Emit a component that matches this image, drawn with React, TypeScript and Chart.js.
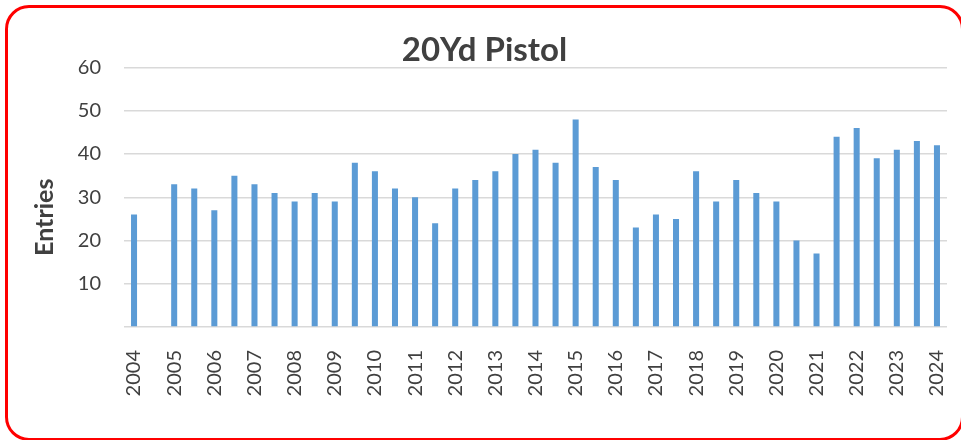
import { useEffect, useRef } from 'react';
import { Chart, registerables } from 'chart.js';

Chart.register(...registerables);

const categories = [
  '2004', '', '2005', '', '2006', '', '2007', '', '2008', '', '2009', '',
  '2010', '', '2011', '', '2012', '', '2013', '', '2014', '', '2015', '',
  '2016', '', '2017', '', '2018', '', '2019', '', '2020', '', '2021', '',
  '2022', '', '2023', '', '2024',
];

const entries = [
  26, null, 33, 32, 27, 35, 33, 31, 29, 31, 29, 38,
  36, 32, 30, 24, 32, 34, 36, 40, 41, 38, 48, 37,
  34, 23, 26, 25, 36, 29, 34, 31, 29, 20, 17, 44,
  46, 39, 41, 43, 42,
];

const yMin = 0;
const yMax = 60;
const yStep = 10;

const chartTitle = '20Yd Pistol';
const yAxisTitle = 'Entries';

const FONT = 'Lato, "Open Sans", sans-serif';
const TEXT = '#404040';
const BAR = '#5B9BD5';
const GRID = '#d9d9d9';

const yTitlePlugin = {
  id: 'yTitlePlugin',
  afterDraw(chart: any) {
    const { ctx, chartArea } = chart;
    ctx.save();
    ctx.font = `bold 25px ${FONT}`;
    ctx.fillStyle = TEXT;
    ctx.textAlign = 'center';
    ctx.textBaseline = 'alphabetic';
    ctx.translate(chartArea.left - 71, (chartArea.top + chartArea.bottom) / 2 + 20);
    ctx.rotate(-Math.PI / 2);
    ctx.fillText(yAxisTitle, 0, 0);
    ctx.restore();
  },
};

export default function App() {
  const ref = useRef<HTMLCanvasElement | null>(null);

  useEffect(() => {
    if (!ref.current) return;
    const chart = new Chart(ref.current, {
      type: 'bar',
      data: {
        labels: categories,
        datasets: [
          {
            label: yAxisTitle,
            data: entries,
            backgroundColor: BAR,
            borderWidth: 0,
            barPercentage: 0.3,
            categoryPercentage: 1,
          },
        ],
      },
      options: {
        animation: false,
        responsive: false,
        devicePixelRatio: 1,
        layout: { padding: { left: 8, right: 0, top: 0, bottom: 0 } },
        plugins: {
          legend: { display: false },
          tooltip: { enabled: false },
          title: {
            display: true,
            text: chartTitle,
            color: TEXT,
            font: { family: FONT, size: 33, weight: 'bold', lineHeight: 1 },
            padding: { top: 34, bottom: 0.5 },
          },
        },
        scales: {
          x: {
            offset: true,
            grid: { display: false },
            border: { display: false },
            ticks: {
              autoSkip: false,
              minRotation: 90,
              maxRotation: 90,
              padding: 15,
              color: TEXT,
              font: { family: FONT, size: 20 },
            },
            afterFit: (s: any) => {
              s.height = 113;
              s.paddingLeft = 0;
              s.paddingRight = 0;
            },
          },
          y: {
            min: yMin,
            max: yMax,
            grid: { color: GRID, lineWidth: 1.5, drawTicks: false },
            border: { display: false },
            ticks: {
              stepSize: yStep,
              padding: 23,
              color: TEXT,
              font: { family: FONT, size: 20 },
              callback: (v: any) => (v === 0 ? '' : String(v)),
            },
            afterFit: (s: any) => {
              s.width = 116;
            },
          },
          y2: {
            position: 'right',
            display: true,
            grid: { display: false },
            border: { display: false },
            ticks: { display: false },
            afterFit: (s: any) => {
              s.width = 14;
              s.paddingTop = 0;
              s.paddingBottom = 0;
            },
          },
        },
      },
      plugins: [yTitlePlugin],
    } as any);
    return () => chart.destroy();
  }, []);

  return (
    <div style={{ position: 'fixed', left: 0, top: 0, width: 961, height: 440, background: '#fff' }}>
      <canvas ref={ref} width={961} height={440} style={{ display: 'block' }} />
      <div
        style={{
          position: 'fixed',
          left: 5,
          top: 5,
          width: 959,
          height: 436,
          border: '3px solid #FF0000',
          borderRadius: 24,
          boxSizing: 'border-box',
          pointerEvents: 'none',
        }}
      />
    </div>
  );
}
